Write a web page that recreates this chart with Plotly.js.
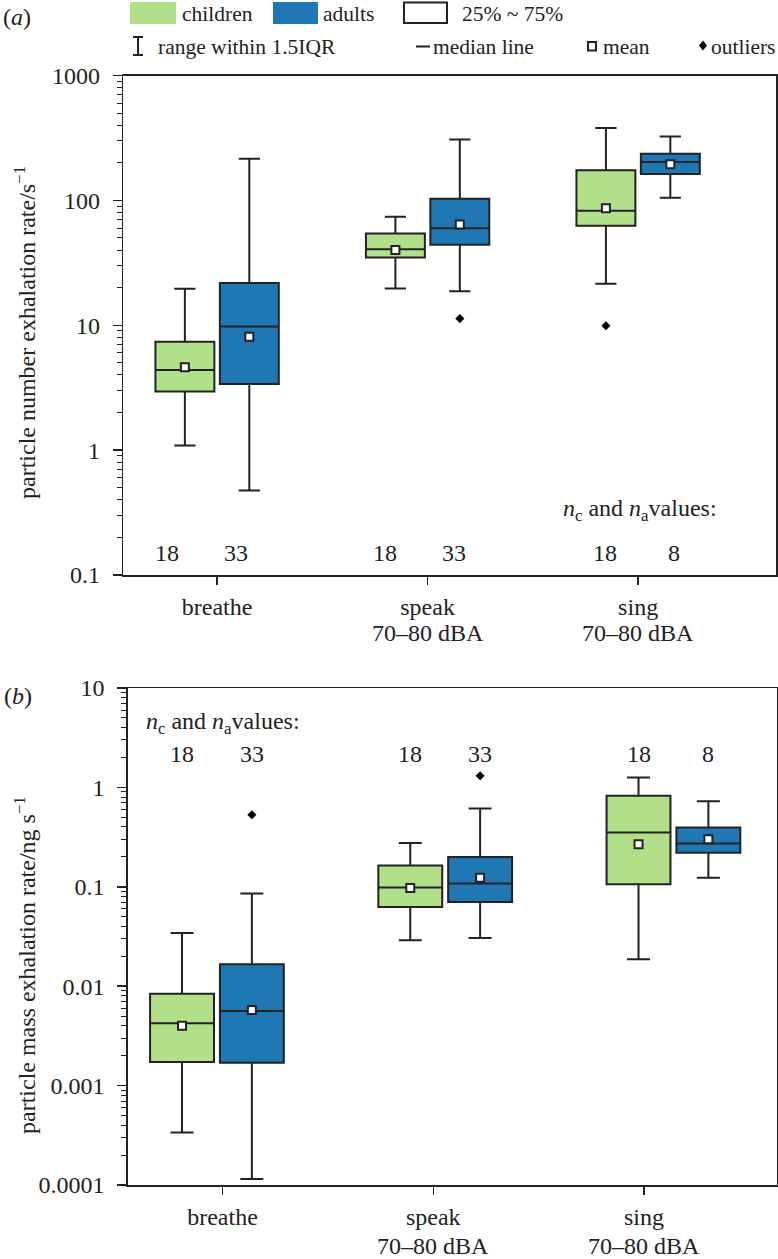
<!DOCTYPE html>
<html>
<head>
<meta charset="utf-8">
<script src="https://cdn.plot.ly/plotly-3.0.1.min.js"></script>
<style>html,body{margin:0;padding:0;background:#fff}</style>
</head>
<body>
<div id="chart" style="width:778px;height:1259px"></div>
<script>
// ---------------- data ----------------
const categories = ['breathe', 'speak', 'sing'];
const tickLabels = ['breathe', 'speak', 'sing'];
const tickSubLabels = ['', '70–80 dBA', '70–80 dBA'];
const nChildren = [18, 18, 18];
const nAdults = [33, 33, 8];

// (a) particle number exhalation rate / s^-1
const numChildLower  = [1.09, 19.7, 21.5];
const numChildQ1     = [2.95, 34.9, 62.6];
const numChildMedian = [4.38, 40.6, 82.7];
const numChildQ3     = [7.38, 54.4, 174];
const numChildUpper  = [19.6, 73.8, 380];
const numChildMean   = [4.60, 40.1, 86.5];
const numChildOutlier = [null, null, 9.9];

const numAdultLower  = [0.475, 18.7, 105];
const numAdultQ1     = [3.38, 44.1, 163];
const numAdultMedian = [9.78, 59.8, 203];
const numAdultQ3     = [21.8, 103, 236];
const numAdultUpper  = [215, 307, 325];
const numAdultMean   = [8.08, 64.2, 195];
const numAdultOutlier = [null, 11.3, null];

const numTickVals  = [0.1, 1, 10, 100, 1000];
const numTickText  = ['0.1', '1', '10', '100', '1000'];

// (b) particle mass exhalation rate / ng s^-1
const massChildLower  = [0.000337, 0.029, 0.0187];
const massChildQ1     = [0.00173, 0.0626, 0.106];
const massChildMedian = [0.00425, 0.0983, 0.352];
const massChildQ3     = [0.00841, 0.164, 0.822];
const massChildUpper  = [0.0343, 0.276, 1.26];
const massChildMean   = [0.0040, 0.097, 0.268];
const massChildOutlier = [null, null, null];

const massAdultLower  = [0.000115, 0.0305, 0.123];
const massAdultQ1     = [0.0017, 0.0704, 0.220];
const massAdultMedian = [0.00564, 0.108, 0.273];
const massAdultQ3     = [0.0166, 0.2, 0.396];
const massAdultUpper  = [0.0857, 0.614, 0.725];
const massAdultMean   = [0.00575, 0.123, 0.301];
const massAdultOutlier = [0.53, 1.31, null];

const massTickVals = [0.0001, 0.001, 0.01, 0.1, 1, 10];
const massTickText = ['0.0001', '0.001', '0.01', '0.1', '1', '10'];

// ---------------- style / layout ----------------
const W = 778, H = 1259;
const FONT = 'Liberation Serif, Times New Roman, serif';
const INK = '#222';
const GREEN = '#b2df8a', BLUE = '#1f78b4';
const OFFSET = 0.153, BOXW = 0.28;
const px = x => x / W;
const py = y => 1 - y / H;

function minorTicks(lo, hi) {
  const out = [];
  for (let d = lo; d < hi; d++) for (let k = 2; k <= 9; k++) out.push(k * Math.pow(10, d));
  return out;
}
const pos = sign => categories.map((_, i) => i + sign * OFFSET);

function boxTrace(xa, ya, sign, lo, q1, med, q3, up, color) {
  return {
    type: 'box', xaxis: xa, yaxis: ya, x: pos(sign),
    q1: q1, median: med, q3: q3, lowerfence: lo, upperfence: up,
    fillcolor: color, line: {color: INK, width: 2}, width: BOXW, whiskerwidth: 0.36,
    boxpoints: false, showlegend: false, hoverinfo: 'skip'
  };
}
function meanTrace(xa, ya, sign, vals) {
  return {type: 'scatter', mode: 'markers', xaxis: xa, yaxis: ya, x: pos(sign), y: vals,
    marker: {symbol: 'square', size: 8, color: '#fff', line: {color: INK, width: 2}},
    showlegend: false, hoverinfo: 'skip'};
}
function outlierTrace(xa, ya, sign, vals) {
  return {type: 'scatter', mode: 'markers', xaxis: xa, yaxis: ya, x: pos(sign), y: vals,
    marker: {symbol: 'diamond', size: 7, color: '#000'}, showlegend: false, hoverinfo: 'skip'};
}

const traces = [
  boxTrace('x', 'y', -1, numChildLower, numChildQ1, numChildMedian, numChildQ3, numChildUpper, GREEN),
  boxTrace('x', 'y', 1, numAdultLower, numAdultQ1, numAdultMedian, numAdultQ3, numAdultUpper, BLUE),
  meanTrace('x', 'y', -1, numChildMean), meanTrace('x', 'y', 1, numAdultMean),
  outlierTrace('x', 'y', -1, numChildOutlier), outlierTrace('x', 'y', 1, numAdultOutlier),
  boxTrace('x2', 'y2', -1, massChildLower, massChildQ1, massChildMedian, massChildQ3, massChildUpper, GREEN),
  boxTrace('x2', 'y2', 1, massAdultLower, massAdultQ1, massAdultMedian, massAdultQ3, massAdultUpper, BLUE),
  meanTrace('x2', 'y2', -1, massChildMean), meanTrace('x2', 'y2', 1, massAdultMean),
  outlierTrace('x2', 'y2', -1, massChildOutlier), outlierTrace('x2', 'y2', 1, massAdultOutlier)
];

const tickFont = {family: FONT, size: 24, color: INK};
function xAxis(dom, range, anchor, tickvals) {
  return {domain: dom, range: range, anchor: anchor, tickmode: 'array', tickvals: tickvals, ticktext: tickLabels,
    ticks: 'outside', ticklen: 8, tickwidth: 1.5, tickcolor: INK, showline: true, mirror: true,
    linecolor: INK, linewidth: 1.5, showgrid: false, zeroline: false, tickfont: tickFont,
    ticklabelstandoff: 2, fixedrange: true};
}
function yAxis(dom, range, anchor, vals, text) {
  return {domain: dom, type: 'log', range: range, anchor: anchor, tickmode: 'array', tickvals: vals, ticktext: text,
    ticks: 'outside', ticklen: 9, tickwidth: 1.5, tickcolor: INK,
    minor: {tickmode: 'array', tickvals: minorTicks(range[0], range[1]), ticks: 'outside', ticklen: 5, tickwidth: 1, tickcolor: INK, showgrid: false},
    showline: true, mirror: true, linecolor: INK, linewidth: 1.5, showgrid: false, zeroline: false,
    tickfont: tickFont, ticklabelstandoff: 8, fixedrange: true};
}

// panel (b) tick marks sit on a slightly different spacing than its boxes
const TICK_SCALE_B = 0.9233, TICK_SHIFT_B = 0.0245;
const tickPosA = categories.map((_, i) => i);
const tickPosB = categories.map((_, i) => TICK_SHIFT_B + i * TICK_SCALE_B);
const labelShiftA = [-0.0755, -0.038, 0.007];
const LABEL_SPREAD_A = 0.164;

const annFont = {family: FONT, size: 24, color: INK};
const annotations = [];
categories.forEach((c, i) => {
  annotations.push({xref: 'x', yref: 'y domain', x: i + labelShiftA[i] - LABEL_SPREAD_A, y: 0.045, text: String(nChildren[i]), showarrow: false, font: annFont, xanchor: 'center', yanchor: 'middle'});
  annotations.push({xref: 'x', yref: 'y domain', x: i + labelShiftA[i] + LABEL_SPREAD_A, y: 0.045, text: String(nAdults[i]), showarrow: false, font: annFont, xanchor: 'center', yanchor: 'middle'});
  annotations.push({xref: 'x2', yref: 'y2 domain', x: i - OFFSET, y: 0.867, text: String(nChildren[i]), showarrow: false, font: annFont, xanchor: 'center', yanchor: 'middle'});
  annotations.push({xref: 'x2', yref: 'y2 domain', x: i + OFFSET, y: 0.867, text: String(nAdults[i]), showarrow: false, font: annFont, xanchor: 'center', yanchor: 'middle'});
  if (tickSubLabels[i]) {
    annotations.push({xref: 'x', yref: 'y domain', x: tickPosA[i], y: -0.1161, text: tickSubLabels[i], showarrow: false, font: annFont, xanchor: 'center', yanchor: 'middle'});
    annotations.push({xref: 'x2', yref: 'y2 domain', x: tickPosB[i], y: -0.1227, text: tickSubLabels[i], showarrow: false, font: annFont, xanchor: 'center', yanchor: 'middle'});
  }
});
const nText = '<i>n</i><sub>c</sub> and <i>n</i><sub>a</sub>values:';
annotations.push({xref: 'x', yref: 'y domain', x: 2 + labelShiftA[2], y: 0.131, text: nText, showarrow: false, font: annFont, xanchor: 'center', yanchor: 'middle'});
annotations.push({xref: 'x2', yref: 'y2 domain', x: TICK_SHIFT_B, y: 0.93, text: nText, showarrow: false, font: annFont, xanchor: 'center', yanchor: 'middle'});

// axis titles
annotations.push({xref: 'paper', yref: 'paper', x: px(25), y: py(333), text: 'particle number exhalation rate/s<sup>−1</sup>', textangle: -90, showarrow: false, font: annFont, xanchor: 'center', yanchor: 'middle'});
annotations.push({xref: 'paper', yref: 'paper', x: px(25), y: py(965), text: 'particle mass exhalation rate/ng s<sup>−1</sup>', textangle: -90, showarrow: false, font: annFont, xanchor: 'center', yanchor: 'middle'});
// panel labels
annotations.push({xref: 'paper', yref: 'paper', x: px(17), y: py(17), text: '(<i>a</i>)', showarrow: false, font: annFont, xanchor: 'center', yanchor: 'middle'});
annotations.push({xref: 'paper', yref: 'paper', x: px(18), y: py(696), text: '(<i>b</i>)', showarrow: false, font: annFont, xanchor: 'center', yanchor: 'middle'});

// legend
const legFont = {family: FONT, size: 21.5, color: INK};
const legendItems = [
  {text: 'children', x: 180, y: 14},
  {text: 'adults', x: 321, y: 14},
  {text: '25% ~ 75%', x: 460, y: 14},
  {text: 'range within 1.5IQR', x: 156, y: 47},
  {text: 'median line', x: 431, y: 47},
  {text: 'mean', x: 601, y: 47},
  {text: 'outliers', x: 709, y: 47}
];
legendItems.forEach(it => annotations.push({xref: 'paper', yref: 'paper', x: px(it.x), y: py(it.y), text: it.text, showarrow: false, font: legFont, xanchor: 'left', yanchor: 'middle'}));

const P = {xref: 'paper', yref: 'paper', layer: 'above'};
const shapes = [
  Object.assign({type: 'rect', x0: px(130), x1: px(176), y0: py(24), y1: py(2), fillcolor: GREEN, line: {width: 0}}, P),
  Object.assign({type: 'rect', x0: px(273), x1: px(318), y0: py(24), y1: py(2), fillcolor: BLUE, line: {width: 0}}, P),
  Object.assign({type: 'rect', x0: px(404), x1: px(447), y0: py(23), y1: py(2.5), fillcolor: '#fff', line: {color: INK, width: 2}}, P),
  Object.assign({type: 'line', x0: px(138), x1: px(138), y0: py(37), y1: py(55), line: {color: INK, width: 2}}, P),
  Object.assign({type: 'line', x0: px(133), x1: px(143), y0: py(37), y1: py(37), line: {color: INK, width: 2}}, P),
  Object.assign({type: 'line', x0: px(133), x1: px(143), y0: py(55), y1: py(55), line: {color: INK, width: 2}}, P),
  Object.assign({type: 'line', x0: px(416), x1: px(430), y0: py(46.5), y1: py(46.5), line: {color: INK, width: 2}}, P),
  Object.assign({type: 'rect', x0: px(588), x1: px(596), y0: py(50.5), y1: py(42), fillcolor: '#fff', line: {color: INK, width: 2}}, P),
  Object.assign({type: 'path', path: `M ${px(699)},${py(45.5)} L ${px(703)},${py(40.5)} L ${px(707)},${py(45.5)} L ${px(703)},${py(50.5)} Z`, fillcolor: '#000', line: {width: 0}}, P)
];

const layout = {
  width: W, height: H, margin: {l: 0, r: 0, t: 0, b: 0},
  paper_bgcolor: '#fff', plot_bgcolor: '#fff',
  font: {family: FONT, size: 24, color: INK},
  boxmode: 'overlay', showlegend: false,
  xaxis: xAxis([px(123.3), px(776)], [-0.4456, 2.655], 'y', tickPosA),
  yaxis: yAxis([py(575), py(75.5)], [-1, 3], 'x', numTickVals, numTickText),
  xaxis2: xAxis([px(127.7), px(777.3)], [-0.391, 2.455], 'y2', tickPosB),
  yaxis2: yAxis([py(1185), py(688)], [-4, 1], 'x2', massTickVals, massTickText),
  annotations: annotations,
  shapes: shapes
};

Plotly.newPlot('chart', traces, layout, {staticPlot: true, displayModeBar: false});
</script>
</body>
</html>
